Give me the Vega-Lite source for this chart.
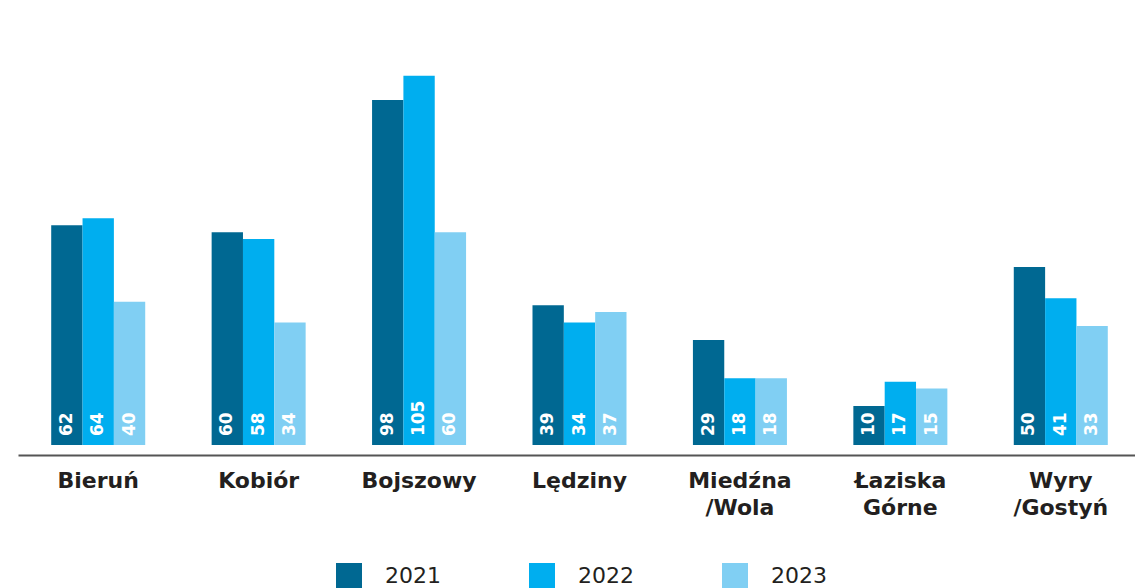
{
  "$schema": "https://vega.github.io/schema/vega-lite/v6.json",
  "autosize": "none",
  "width": 1123,
  "height": 380,
  "padding": {"left": 18, "top": 75, "right": 0, "bottom": 133},
  "background": "white",
  "data": {"values": [
    {"g": "Bieruń", "year": "2021", "v": 62},
    {"g": "Bieruń", "year": "2022", "v": 64},
    {"g": "Bieruń", "year": "2023", "v": 40},
    {"g": "Kobiór", "year": "2021", "v": 60},
    {"g": "Kobiór", "year": "2022", "v": 58},
    {"g": "Kobiór", "year": "2023", "v": 34},
    {"g": "Bojszowy", "year": "2021", "v": 98},
    {"g": "Bojszowy", "year": "2022", "v": 105},
    {"g": "Bojszowy", "year": "2023", "v": 60},
    {"g": "Lędziny", "year": "2021", "v": 39},
    {"g": "Lędziny", "year": "2022", "v": 34},
    {"g": "Lędziny", "year": "2023", "v": 37},
    {"g": "Miedźna /Wola", "year": "2021", "v": 29},
    {"g": "Miedźna /Wola", "year": "2022", "v": 18},
    {"g": "Miedźna /Wola", "year": "2023", "v": 18},
    {"g": "Łaziska Górne", "year": "2021", "v": 10},
    {"g": "Łaziska Górne", "year": "2022", "v": 17},
    {"g": "Łaziska Górne", "year": "2023", "v": 15},
    {"g": "Wyry /Gostyń", "year": "2021", "v": 50},
    {"g": "Wyry /Gostyń", "year": "2022", "v": 41},
    {"g": "Wyry /Gostyń", "year": "2023", "v": 33}
  ]},
  "encoding": {
    "x": {
      "field": "g", "type": "nominal", "sort": null,
      "scale": {"paddingInner": 0.414, "paddingOuter": 0.207},
      "axis": {
        "title": null, "labelAngle": 0, "ticks": false,
        "domainColor": "#555555", "domainWidth": 2,
        "labelExpr": "split(datum.value, ' ')",
        "labelFont": "DejaVu Sans", "labelFontWeight": "bold", "labelFontSize": 22,
        "labelColor": "#231F20", "labelPadding": 15, "labelLineHeight": 27,
        "labelBaseline": "top"
      }
    },
    "xOffset": {"field": "year", "type": "nominal", "scale": {"paddingInner": 0, "paddingOuter": 0}}
  },
  "layer": [
    {
      "mark": {"type": "bar"},
      "encoding": {
        "y": {"field": "v", "type": "quantitative", "scale": {"domain": [-4.1, 105.2], "nice": false, "zero": false}, "axis": null},
        "y2": {"datum": -1.24},
        "color": {
          "field": "year", "type": "nominal",
          "scale": {"domain": ["2021", "2022", "2023"], "range": ["#006892", "#00AEEF", "#80CFF3"]},
          "legend": {
            "title": null, "orient": "none", "direction": "horizontal",
            "legendX": 318, "legendY": 488, "padding": 0,
            "symbolType": "square", "symbolSize": 676, "symbolStrokeWidth": 0, "symbolOpacity": 1,
            "labelFont": "DejaVu Sans", "labelFontSize": 22, "labelColor": "#231F20",
            "labelOffset": 23, "columnPadding": 88
          }
        }
      }
    },
    {
      "mark": {"type": "text", "angle": 270, "align": "left", "baseline": "middle", "dx": 9, "fill": "white", "font": "DejaVu Sans", "fontWeight": "bold", "fontSize": 17},
      "encoding": {
        "y": {"datum": -1.24, "type": "quantitative"},
        "text": {"field": "v", "type": "quantitative"}
      }
    }
  ],
  "config": {"view": {"stroke": null}}
}
